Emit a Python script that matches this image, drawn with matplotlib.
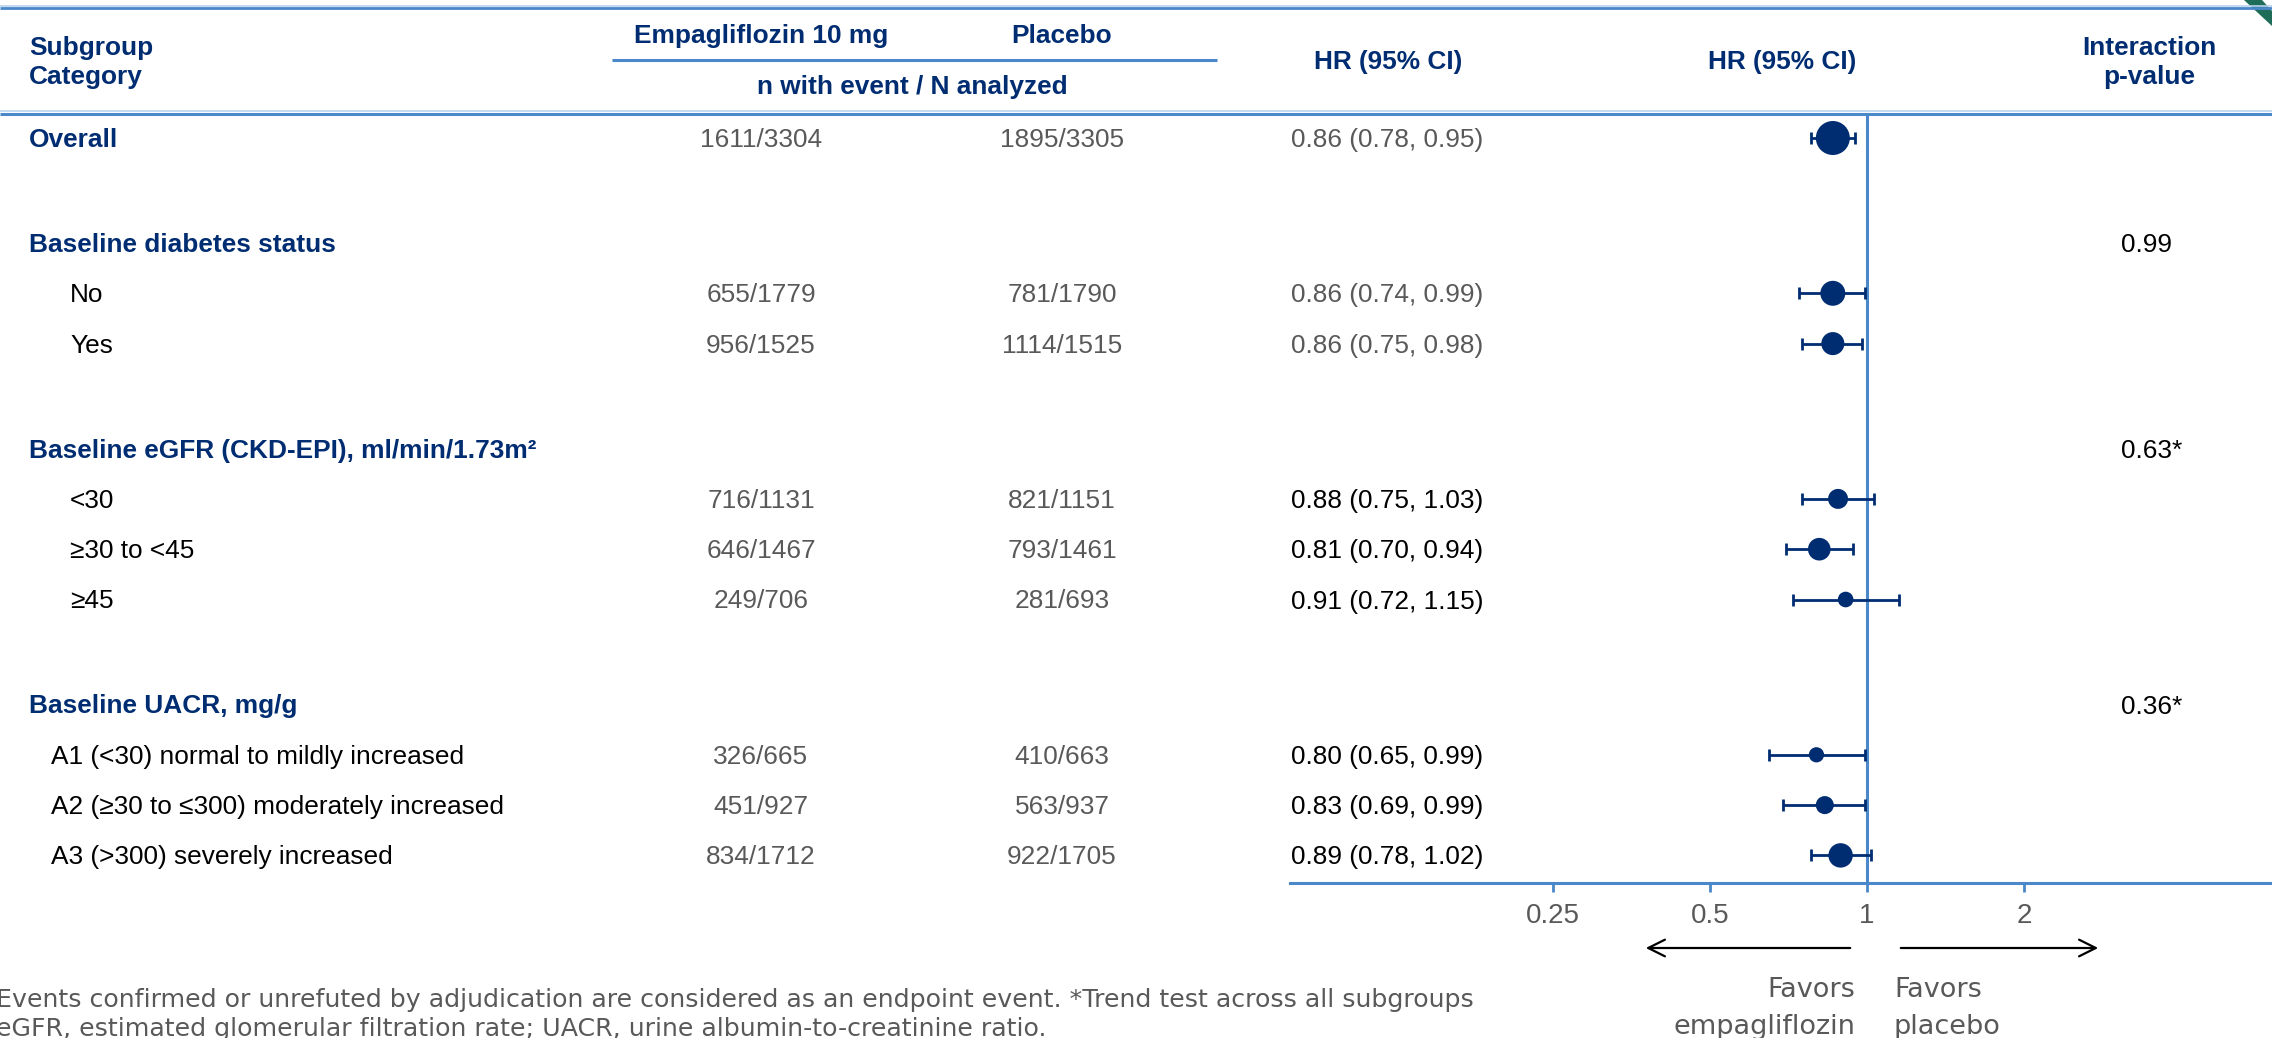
import numpy as np
import matplotlib
matplotlib.use("Agg")
import matplotlib.pyplot as plt
from matplotlib.patches import Polygon
from matplotlib.ticker import NullLocator

# ---------------- data ----------------
row_labels = [
    "Overall",
    "Baseline diabetes status", "No", "Yes",
    "Baseline eGFR (CKD-EPI), ml/min/1.73m\u00b2", "<30", "\u226530 to <45", "\u226545",
    "Baseline UACR, mg/g",
    "A1 (<30) normal to mildly increased",
    "A2 (\u226530 to \u2264300) moderately increased",
    "A3 (>300) severely increased",
]
row_kind = ["overall", "group", "sub", "sub", "group", "sub", "sub", "sub",
            "group", "subA", "subA", "subA"]

emp_events = [1611, None, 655, 956, None, 716, 646, 249, None, 326, 451, 834]
emp_n = [3304, None, 1779, 1525, None, 1131, 1467, 706, None, 665, 927, 1712]
pbo_events = [1895, None, 781, 1114, None, 821, 793, 281, None, 410, 563, 922]
pbo_n = [3305, None, 1790, 1515, None, 1151, 1461, 693, None, 663, 937, 1705]
hr = [0.86, None, 0.86, 0.86, None, 0.88, 0.81, 0.91, None, 0.80, 0.83, 0.89]
ci_lo = [0.78, None, 0.74, 0.75, None, 0.75, 0.70, 0.72, None, 0.65, 0.69, 0.78]
ci_hi = [0.95, None, 0.99, 0.98, None, 1.03, 0.94, 1.15, None, 0.99, 0.99, 1.02]
p_interaction = [None, "0.99", None, None, "0.63*", None, None, None, "0.36*",
                 None, None, None]
hr_text_dark = [False, None, False, False, None, True, True, True, None, True, True, True]

x_ticks = [0.25, 0.5, 1, 2]
x_tick_labels = ["0.25", "0.5", "1", "2"]

footnotes = [
    "Events confirmed or unrefuted by adjudication are considered as an endpoint "
    "event. *Trend test across all subgroups",
    "eGFR, estimated glomerular filtration rate; UACR, urine albumin-to-creatinine ratio.",
]

# ---------------- style ----------------
W, H, DPI = 2272, 1038, 100
NAVY = "#002D72"
LINE_BLUE = "#4A88C9"
LIGHT_BLUE = "#B9D3EE"
GRAY = "#595959"
FS = 18.9

plt.rcParams["font.family"] = ["Liberation Sans", "DejaVu Sans"]

fig = plt.figure(figsize=(W / DPI, H / DPI), dpi=DPI)
fig.patch.set_facecolor("white")

# pixel-based layout axes for the table
ax = fig.add_axes([0, 0, 1, 1])
ax.set_xlim(0, W)
ax.set_ylim(H, 0)
ax.axis("off")

# forest-plot axes: log2 scale, HR=1 at x=1867 px, 157 px per doubling
X_ONE, PPD = 1867, 157.0
px2hr = lambda px: 2 ** ((px - X_ONE) / PPD)
fx = fig.add_axes([0, 0, 1, 1], facecolor="none")
fx.set_xscale("log", base=2)
fx.set_xlim(px2hr(0), px2hr(W))
fx.set_ylim(H, 0)

# row positions
y_pos = []
y = 138.0
for i, kind in enumerate(row_kind):
    if i > 0:
        y += 105.0 if kind == "group" else 50.3
    y_pos.append(y)

# ---------- header ----------
ax.plot([0, W], [5.5, 5.5], color=LIGHT_BLUE, lw=1.2, solid_capstyle="butt")
ax.plot([0, W], [7.5, 7.5], color=LINE_BLUE, lw=2.0, solid_capstyle="butt")
ax.plot([612, 1217], [60, 60], color=LINE_BLUE, lw=2.2, solid_capstyle="butt")
ax.plot([0, W], [111, 111], color=LIGHT_BLUE, lw=1.2, solid_capstyle="butt")
ax.plot([0, W], [113.5, 113.5], color=LINE_BLUE, lw=2.2, solid_capstyle="butt")
ax.add_patch(Polygon([[2244, 0], [2262, 0], [2272, 11], [2272, 26]],
                     closed=True, color="#1F6D59", lw=0))

hkw = dict(color=NAVY, fontsize=FS, fontweight="bold", va="center")
ax.text(29, 48, "Subgroup", ha="left", **hkw)
ax.text(29, 77, "Category", ha="left", **hkw)
ax.text(761, 36, "Empagliflozin 10 mg", ha="center", **hkw)
ax.text(1062, 36, "Placebo", ha="center", **hkw)
ax.text(912, 87, "n with event / N analyzed", ha="center", **hkw)
ax.text(1388, 62, "HR (95% CI)", ha="center", **hkw)
ax.text(1782, 62, "HR (95% CI)", ha="center", **hkw)
ax.text(2149, 48, "Interaction", ha="center", **hkw)
ax.text(2149, 77, "p-value", ha="center", **hkw)

# ---------- table rows ----------
for i, (lab, kind) in enumerate(zip(row_labels, row_kind)):
    yt = y_pos[i] + 2
    if kind in ("overall", "group"):
        ax.text(29, yt, lab, ha="left", va="center", color=NAVY,
                fontsize=FS, fontweight="bold")
    else:
        x0 = 70 if kind == "sub" else 51
        ax.text(x0, yt, lab, ha="left", va="center", color="black", fontsize=FS)
    if emp_events[i] is not None:
        ax.text(761, yt, f"{emp_events[i]}/{emp_n[i]}", ha="center", va="center",
                color=GRAY, fontsize=FS)
        ax.text(1062, yt, f"{pbo_events[i]}/{pbo_n[i]}", ha="center", va="center",
                color=GRAY, fontsize=FS)
        ax.text(1387, yt, f"{hr[i]:.2f} ({ci_lo[i]:.2f}, {ci_hi[i]:.2f})",
                ha="center", va="center",
                color="black" if hr_text_dark[i] else GRAY, fontsize=FS)
    if p_interaction[i] is not None:
        ax.text(2121, yt, p_interaction[i], ha="left", va="center",
                color="black", fontsize=FS)

# ---------- forest plot ----------
idx = [i for i, v in enumerate(hr) if v is not None]
h = np.array([hr[i] for i in idx])
lo = np.array([ci_lo[i] for i in idx])
hi = np.array([ci_hi[i] for i in idx])
yy = np.array([y_pos[i] for i in idx])
ntot = np.array([emp_n[i] + pbo_n[i] for i in idx])
diam_pt = 0.418 * np.sqrt(ntot) * 72 / DPI

fx.vlines(1, 113.5, 883, color=LINE_BLUE, lw=2.2, zorder=1)
fx.errorbar(h, yy, xerr=[h - lo, hi - h], fmt="none", ecolor=NAVY,
            elinewidth=2.0, capsize=4, capthick=2.0, zorder=2)
fx.scatter(h, yy, s=diam_pt ** 2, color=NAVY, edgecolors="none", zorder=3)

for side in ("top", "left", "right"):
    fx.spines[side].set_visible(False)
fx.spines["bottom"].set_position(("data", 883))
fx.spines["bottom"].set_bounds(px2hr(1290), px2hr(W))
fx.spines["bottom"].set_color(LINE_BLUE)
fx.spines["bottom"].set_linewidth(2.2)
fx.set_xticks(x_ticks)
fx.set_xticklabels(x_tick_labels)
fx.xaxis.set_minor_locator(NullLocator())
fx.tick_params(axis="x", direction="out", length=6.5, width=2, color=LINE_BLUE,
               labelsize=20, labelcolor=GRAY, pad=8)
fx.set_yticks([])

# direction arrows and captions
akw = dict(arrowstyle="->", color="black", lw=1.6, mutation_scale=30)
ax.annotate("", xy=(1643, 948), xytext=(1853, 948), arrowprops=akw)
ax.annotate("", xy=(2101, 948), xytext=(1898, 948), arrowprops=akw)
fkw = dict(color=GRAY, fontsize=19.5, va="center", family=["DejaVu Sans"])
ax.text(1855, 990, "Favors", ha="right", **fkw)
ax.text(1855, 1027, "empagliflozin", ha="right", **fkw)
ax.text(1894, 990, "Favors", ha="left", **fkw)
ax.text(1894, 1027, "placebo", ha="left", **fkw)

# footnotes
nkw = dict(color=GRAY, fontsize=18.2, va="center", ha="left", family=["DejaVu Sans"])
ax.text(-4, 1000, footnotes[0], **nkw)
ax.text(-4, 1029, footnotes[1], **nkw)

fig.savefig("out.png", dpi=DPI, facecolor="white")
